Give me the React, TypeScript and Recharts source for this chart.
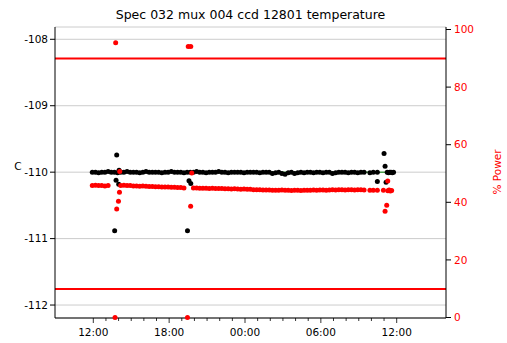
import { CartesianGrid, ComposedChart, ReferenceLine, Scatter, XAxis, YAxis } from "recharts"

// hours since midnight of the first day
const times = [
  11.92, 12.17, 12.42, 12.67, 12.92, 13.17, 13.42, 13.67, 13.92, 14.17,
  14.42, 14.67, 14.92, 15.17, 15.42, 15.67, 15.92, 16.17, 16.42, 16.67,
  16.92, 17.17, 17.42, 17.67, 17.92, 18.17, 18.42, 18.67, 18.92, 19.17,
  19.42, 19.67, 19.92, 20.17, 20.42, 20.67, 20.92, 21.17, 21.42, 21.67,
  21.92, 22.17, 22.42, 22.67, 22.92, 23.17, 23.42, 23.67, 23.92, 24.17,
  24.42, 24.67, 24.92, 25.17, 25.42, 25.67, 25.92, 26.17, 26.42, 26.67,
  26.92, 27.17, 27.42, 27.67, 27.92, 28.17, 28.42, 28.67, 28.92, 29.17,
  29.42, 29.67, 29.92, 30.17, 30.42, 30.67, 30.92, 31.17, 31.42, 31.67,
  31.92, 32.17, 32.42, 32.67, 32.92, 33.17, 33.42,
]

const temps = [
  -110.0, -110.0, -110.01, -110.0, -110.0, -109.99, -110.0, -110.0, -110.01, -110.0,
  -110.0, -109.99, -110.0, -110.0, -110.0, -110.01, -110.0, -109.99, -110.0, -110.0,
  -110.0, -110.0, -110.01, -110.0, -110.0, -109.99, -110.0, -110.0, -110.0, -110.01,
  -110.0, -110.0, -110.0, -109.99, -110.0, -110.0, -110.01, -110.0, -110.0, -110.0,
  -109.99, -110.0, -110.0, -110.01, -110.0, -110.0, -110.0, -110.0, -110.01, -110.0,
  -110.0, -110.0, -110.0, -110.01, -110.0, -110.0, -110.0, -110.02, -110.01, -110.0,
  -110.02, -110.03, -110.01, -110.0, -110.02, -110.01, -110.0, -110.01, -110.0, -110.0,
  -110.01, -110.0, -110.0, -110.01, -110.0, -110.0, -110.02, -110.01, -110.0, -110.0,
  -110.0, -110.01, -110.0, -110.0, -110.01, -110.0, -110.0,
]

const power = [
  45.8, 45.9, 45.8, 45.8, 45.7, 45.8, null, null, null, 45.8,
  45.9, 45.8, 45.8, 45.7, 45.7, 45.6, 45.7, 45.6, 45.5, 45.5,
  45.4, 45.4, 45.3, 45.3, 45.3, 45.2, 45.2, 45.1, 45.1, 45.0,
  null, null, 45.0, 45.0, 44.9, 44.9, 44.9, 44.8, 44.9, 44.8,
  44.8, 44.8, 44.7, 44.7, 44.6, 44.7, 44.6, 44.5, 44.6, 44.5,
  44.5, 44.4, 44.4, 44.4, 44.3, 44.3, 44.3, 44.2, 44.2, 44.2,
  44.3, 44.2, 44.2, 44.1, 44.2, 44.2, 44.1, 44.2, 44.2, 44.2,
  44.3, 44.2, 44.3, 44.3, 44.2, 44.3, 44.4, 44.3, 44.4, 44.4,
  44.3, 44.4, 44.4, 44.3, 44.4, 44.4, 44.3,
]

// sparse readings around the two glitches and at the end of the run
const extraTempTimes = [
  13.69, 13.8, 13.85, 14.01, 14.04,
  19.45, 19.57, 19.71,
  33.88, 34.15, 34.47, 34.47, 35.0, 35.08, 35.16, 35.25, 35.35, 35.45, 35.55, 35.65, 35.75,
]
const extraTemps = [
  -110.88, -110.12, -109.74, -110.18, -109.97,
  -110.88, -110.13, -110.17,
  -110.01, -110.0, -110.0, -110.14, -109.72, -109.91, -110.15, -110.0, -110.01, -110.0, -110.0, -110.01, -110.0,
]
const extraPowerTimes = [
  13.72, 13.77, 13.85, 13.99, 14.07, 14.09,
  19.45, 19.51, 19.71, 19.7, 19.79,
  33.88, 34.15, 34.47, 34.95, 35.08, 35.21, 35.29, 35.3, 35.4, 35.5, 35.6,
]
const extraPower = [
  0, 95.4, 37.7, 40.4, 43.5, 50.7,
  0, 94.1, 94.1, 38.6, 50.2,
  44.2, 44.2, 44.2, 44.2, 36.9, 39.0, 47.4, 44.0, 44.3, 43.9, 44.1,
]

const setpointTimes = [11.92, 35.77]
const setpoint = -110.0
const tempLimits = [-108.29, -111.76]

const tempTicks = [-112, -111, -110, -109, -108]
const powerTicks = [0, 20, 40, 60, 80, 100]
const hourTicks = [
  12, 13, 14, 15, 16, 17, 18, 19, 20, 21, 22, 23, 24,
  25, 26, 27, 28, 29, 30, 31, 32, 33, 34, 35, 36,
]

const tempData = times
  .map((t, i) => ({ t, v: temps[i] }))
  .concat(extraTempTimes.map((t, i) => ({ t, v: extraTemps[i] })))

const powerData = times
  .map((t, i) => ({ t, v: power[i] }))
  .filter((d) => d.v !== null)
  .concat(extraPowerTimes.map((t, i) => ({ t, v: extraPower[i] })))

const setpointData = setpointTimes.map((t) => ({ t, v: setpoint }))

const FONT = "DejaVu Sans"

const fmtHour = (h: number) => `${String(h % 24).padStart(2, "0")}:00`

const TimeTick = (props: any) => {
  const { x, y, payload } = props
  const major = payload.value % 6 === 0
  return (
    <g>
      <line x1={x} x2={x} y1={y} y2={y + (major ? 5 : 3)} stroke="#000" strokeWidth={0.8} />
      {major && (
        <text x={x} y={y + 17.5} textAnchor="middle" fontSize={10.5} fill="#000" fontFamily={FONT}>
          {fmtHour(payload.value)}
        </text>
      )}
    </g>
  )
}

const dot = (color: string) => (p: any) => <circle cx={p.cx} cy={p.cy} r={2.5} fill={color} />

export default function App() {
  return (
    <div style={{ position: "absolute", left: 0, top: 0, width: 507, height: 343, background: "#fff", fontFamily: FONT }}>
      <ComposedChart width={507} height={343} margin={{ top: 27, right: 0, bottom: 0, left: 0 }} style={{ fontFamily: FONT }}>
        <CartesianGrid yAxisId="temp" vertical={false} stroke="#cccccc" />
        <XAxis
          dataKey="t"
          type="number"
          domain={[8.97, 39.9]}
          ticks={hourTicks}
          interval={0}
          height={25}
          tickSize={0}
          tickMargin={0}
          tick={<TimeTick />}
          stroke="#000"
        />
        <XAxis xAxisId="top" orientation="top" type="number" dataKey="t" domain={[8.97, 39.9]} height={0} tick={false} tickLine={false} stroke="#000" />
        <YAxis
          yAxisId="temp"
          type="number"
          domain={[-112.195, -107.815]}
          ticks={tempTicks}
          width={55}
          tickSize={5}
          stroke="#000"
          tick={{ fontSize: 10.5, fill: "#000" }}
        />
        <YAxis
          yAxisId="power"
          orientation="right"
          type="number"
          domain={[-0.17, 100.87]}
          ticks={powerTicks}
          width={61}
          tickSize={5}
          tickMargin={3}
          stroke="#000"
          tick={{ fontSize: 10.5, fill: "#ff0000" }}
        />
        {tempLimits.map((v) => (
          <ReferenceLine key={v} yAxisId="temp" y={v} stroke="#ff0000" strokeWidth={2} />
        ))}
        <Scatter
          yAxisId="temp"
          data={setpointData}
          dataKey="v"
          line={{ stroke: "#008000", strokeWidth: 1 }}
          shape={() => <g />}
          isAnimationActive={false}
        />
        <Scatter yAxisId="temp" data={tempData} dataKey="v" shape={dot("#000")} isAnimationActive={false} />
        <Scatter yAxisId="power" data={powerData} dataKey="v" shape={dot("#ff0000")} isAnimationActive={false} />
      </ComposedChart>
      <div style={{ position: "absolute", left: 250.5, top: 8, transform: "translateX(-50%)", fontSize: 12.5, lineHeight: "14px", whiteSpace: "nowrap", color: "#000" }}>
        Spec 032 mux 004 ccd 12801 temperature
      </div>
      <div style={{ position: "absolute", left: 18, top: 166, transform: "translate(-50%, -50%)", fontSize: 10.5, color: "#000" }}>
        C
      </div>
      <div style={{ position: "absolute", left: 497, top: 172, transform: "translate(-50%, -50%) rotate(-90deg)", fontSize: 10.5, color: "#ff0000", whiteSpace: "nowrap" }}>
        % Power
      </div>
    </div>
  )
}
